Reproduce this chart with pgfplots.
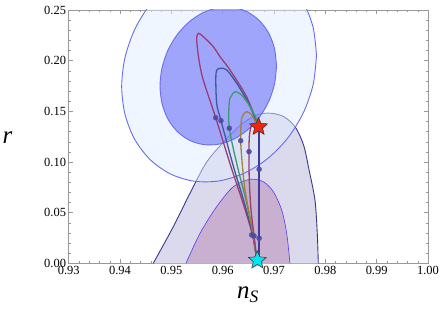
\documentclass[border=0pt]{standalone}
\usepackage{fontspec}
\setmainfont{Liberation Serif}
\usepackage{pgfplots}
\pgfplotsset{compat=1.18}
\definecolor{lightell}{rgb}{0.88,0.93,1.0}
\definecolor{darkell}{rgb}{0.42,0.44,0.98}
\definecolor{elledge}{rgb}{0.42,0.42,0.92}
\definecolor{plout}{rgb}{0.855,0.855,0.925}
\definecolor{ploutedge}{rgb}{0.22,0.22,0.55}
\definecolor{plin}{rgb}{0.79,0.69,0.82}
\definecolor{plinedge}{rgb}{0.36,0.22,0.95}
\definecolor{mpurple}{rgb}{0.6,0.24,0.44}
\definecolor{mblue}{rgb}{0.24,0.35,0.6}
\definecolor{mgreen}{rgb}{0.24,0.6,0.44}
\definecolor{mgold}{rgb}{0.6,0.52,0.24}
\definecolor{mnavy}{rgb}{0.24,0.24,0.6}
\definecolor{dotc}{rgb}{0.29,0.29,0.64}
\definecolor{starred}{rgb}{0.95,0.15,0.05}
\definecolor{starcyan}{rgb}{0.0,0.9,0.95}
\pgfdeclareplotmark{fstar}{%
  \pgfpathmoveto{\pgfpointpolar{90}{\pgfplotmarksize}}%
  \pgfpathlineto{\pgfpointpolar{126}{0.45\pgfplotmarksize}}%
  \pgfpathlineto{\pgfpointpolar{162}{\pgfplotmarksize}}%
  \pgfpathlineto{\pgfpointpolar{198}{0.45\pgfplotmarksize}}%
  \pgfpathlineto{\pgfpointpolar{234}{\pgfplotmarksize}}%
  \pgfpathlineto{\pgfpointpolar{270}{0.45\pgfplotmarksize}}%
  \pgfpathlineto{\pgfpointpolar{306}{\pgfplotmarksize}}%
  \pgfpathlineto{\pgfpointpolar{342}{0.45\pgfplotmarksize}}%
  \pgfpathlineto{\pgfpointpolar{18}{\pgfplotmarksize}}%
  \pgfpathlineto{\pgfpointpolar{54}{0.45\pgfplotmarksize}}%
  \pgfpathclose
  \pgfusepathqfillstroke
}
\begin{document}
\begin{tikzpicture}
\useasboundingbox (-68.7bp,-48.7bp) rectangle (374.3bp,263.3bp);
\begin{axis}[
  scale only axis, width=359.3bp, height=253.3bp,
  xmin=0.93, xmax=1.0, ymin=0, ymax=0.25,
  xtick={0.93,0.94,0.95,0.96,0.97,0.98,0.99,1.00},
  ytick={0,0.05,0.10,0.15,0.20,0.25},
  minor x tick num=4, minor y tick num=4,
  tick align=inside, major tick length=4bp, minor tick length=2bp,
  axis line style={black!40},
  every tick/.style={black!40, line width=0.4pt},
  tick label style={font=\fontsize{12.5}{13}\selectfont},
  xticklabel style={inner sep=2.5pt, /pgf/number format/fixed, /pgf/number format/fixed zerofill, /pgf/number format/precision=2, /pgf/number format/assume math mode=true},
  yticklabel style={inner sep=2.5pt, /pgf/number format/fixed, /pgf/number format/fixed zerofill, /pgf/number format/precision=2, /pgf/number format/assume math mode=true},
  xlabel={\textit{n}\textsubscript{\textit{S}}},
  every axis x label/.style={at={(axis description cs:0.499,-0.125)}, anchor=center, font=\fontsize{25}{27}\selectfont},
  ylabel={\textit{r}},
  every axis y label/.style={at={(axis description cs:-0.1703,0.4947)}, anchor=center, font=\fontsize{25}{27}\selectfont},
  clip mode=individual,
]
% Planck outer contour
\addplot[fill=plout, draw=none, smooth] coordinates {
 (0.94648,0) (0.95038,0.0361) (0.95363,0.0691) (0.95689,0.1) (0.96078,0.1230) (0.96400,0.1385) (0.96700,0.1470) (0.96960,0.1480) (0.97200,0.1445) (0.97420,0.1340) (0.97580,0.1160) (0.97690,0.0904) (0.97798,0.0625) (0.97843,0.0296) (0.97863,0)
} \closedcycle;
\addplot[draw=ploutedge, line width=0.9bp, smooth] coordinates {
 (0.94648,0) (0.95038,0.0361) (0.95363,0.0691) (0.95689,0.1) (0.96078,0.1230) (0.96400,0.1385) (0.96700,0.1470) (0.96960,0.1480) (0.97200,0.1445) (0.97420,0.1340) (0.97580,0.1160) (0.97690,0.0904) (0.97798,0.0625) (0.97843,0.0296) (0.97863,0)
};
% Planck inner contour
\addplot[fill=plin, draw=none, smooth] coordinates {
 (0.95285,0) (0.95558,0.0296) (0.95883,0.0559) (0.96207,0.0756) (0.96532,0.0829) (0.96791,0.0805) (0.96986,0.0707) (0.97150,0.0526) (0.97247,0.0296) (0.97311,0)
} \closedcycle;
\addplot[draw=plinedge, line width=0.6bp, smooth] coordinates {
 (0.95285,0) (0.95558,0.0296) (0.95883,0.0559) (0.96207,0.0756) (0.96532,0.0829) (0.96791,0.0805) (0.96986,0.0707) (0.97150,0.0526) (0.97247,0.0296) (0.97311,0)
};
% BICEP2 2 sigma
\addplot[fill=lightell, fill opacity=0.5, draw=elledge, line width=0.9bp, smooth] coordinates {
 (0.97828,0.2051) (0.97763,0.23266) (0.97574,0.2573) (0.97272,0.27734) (0.96879,0.29141) (0.96421,0.29856) (0.9593,0.2983) (0.95439,0.29064) (0.94981,0.27611) (0.94588,0.2557) (0.94286,0.2308) (0.94097,0.2031) (0.94032,0.1745) (0.94097,0.14694) (0.94286,0.1223) (0.94588,0.10226) (0.94981,0.08819) (0.95439,0.08104) (0.9593,0.0813) (0.96421,0.08896) (0.96879,0.10349) (0.97272,0.1239) (0.97574,0.1488) (0.97763,0.1765) (0.97828,0.2051)
};
% BICEP2 1 sigma
\addplot[fill=darkell, fill opacity=0.6, draw=elledge, line width=0.9bp, smooth] coordinates {
 (0.97049,0.19474) (0.97010,0.21184) (0.96897,0.22711) (0.96716,0.23949) (0.96481,0.24816) (0.96208,0.25251) (0.95914,0.25225) (0.95620,0.2474) (0.95347,0.23829) (0.95112,0.22554) (0.94931,0.21001) (0.94818,0.19277) (0.94779,0.175) (0.94818,0.1579) (0.94931,0.14263) (0.95112,0.13025) (0.95347,0.12158) (0.95620,0.11723) (0.95914,0.11749) (0.96208,0.12234) (0.96481,0.13145) (0.96716,0.1442) (0.96897,0.15973) (0.97010,0.17697) (0.97049,0.19474)
};
% model curves
\addplot[mpurple, line width=1.3bp, smooth] coordinates {
 (0.96663,0.0042) (0.96572,0.0296) (0.96377,0.0625) (0.96162,0.0953) (0.95864,0.1437) (0.95622,0.1809) (0.95540,0.2000) (0.95494,0.2204) (0.95525,0.2270) (0.95622,0.2237) (0.95817,0.2138) (0.95948,0.2039) (0.96142,0.1908) (0.96468,0.1641) (0.96698,0.1348)
};
\addplot[mblue, line width=1.3bp, smooth] coordinates {
 (0.96663,0.0042) (0.96581,0.0296) (0.96406,0.0625) (0.96211,0.0953) (0.95967,0.1408) (0.95883,0.1579) (0.9587,0.1875) (0.95948,0.1925) (0.96078,0.1908) (0.96273,0.1777) (0.96468,0.1612) (0.96600,0.1470) (0.96698,0.1348)
};
\addplot[mgreen, line width=1.3bp, smooth] coordinates {
 (0.96663,0.0042) (0.96591,0.0296) (0.96454,0.0625) (0.96289,0.0953) (0.96129,0.1333) (0.96129,0.1595) (0.96175,0.1656) (0.9624,0.1694) (0.9637,0.1661) (0.96532,0.1546) (0.96649,0.1434) (0.96698,0.1348)
};
\addplot[mgold, line width=1.3bp, smooth] coordinates {
 (0.96663,0.0042) (0.96600,0.0279) (0.96523,0.0477) (0.96435,0.0724) (0.96386,0.0953) (0.96351,0.1210) (0.9637,0.1431) (0.96468,0.1496) (0.96565,0.1464) (0.9663,0.1405) (0.96698,0.1348)
};
\addplot[mpurple, line width=1.3bp, smooth] coordinates {
 (0.96663,0.0042) (0.9661,0.0279) (0.96552,0.0526) (0.96518,0.0822) (0.96513,0.1102) (0.96522,0.1266) (0.96571,0.1365) (0.96698,0.1348)
};
\addplot[mnavy, line width=1.3bp] coordinates {
 (0.9671,0.003) (0.9671,0.1348)
};
% dots
\addplot[only marks, mark=*, mark size=2.5bp, color=dotc, fill opacity=0.9, draw opacity=0.9] coordinates {
 (0.95864,0.1437) (0.95967,0.1408) (0.96129,0.1333) (0.96351,0.1210) (0.96513,0.1102) (0.9671,0.0928) (0.96565,0.028) (0.9661,0.027) (0.9671,0.0247)
};
% stars (shadow, then star)
\addplot[only marks, mark=fstar, mark size=9.3bp, color=black!45, fill opacity=0.5, draw opacity=0, every mark/.append style={xshift=0.9bp, yshift=-0.9bp}] coordinates {
 (0.96698,0.1348) (0.96674,0.003)
};
\addplot[only marks, mark=fstar, mark size=9.3bp, draw=black!80, fill=starred, line width=0.5bp] coordinates {
 (0.96698,0.1348)
};
\addplot[only marks, mark=fstar, mark size=9.3bp, draw=black!80, fill=starcyan, line width=0.5bp] coordinates {
 (0.96674,0.003)
};
\end{axis}
\end{tikzpicture}
\end{document}
